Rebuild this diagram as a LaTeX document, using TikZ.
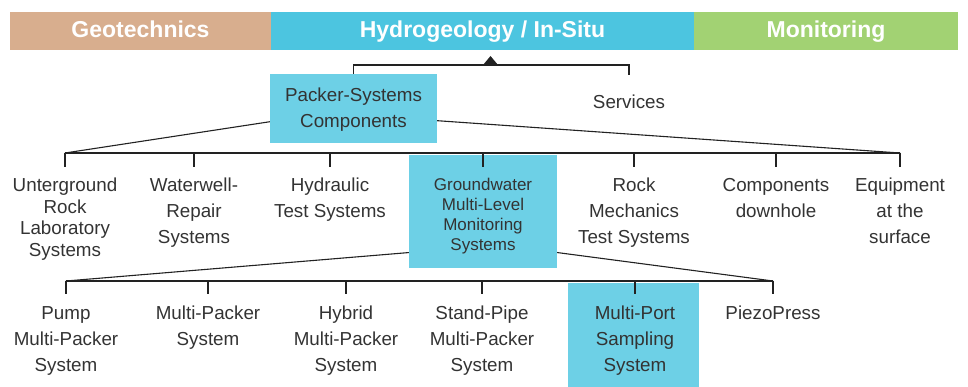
\documentclass[tikz,border=0pt]{standalone}
\usepackage{fontspec}
\setmainfont{Liberation Sans}
\usetikzlibrary{backgrounds}
\definecolor{geoc}{HTML}{D8AE8E}
\definecolor{hydc}{HTML}{4CC5E0}
\definecolor{monc}{HTML}{A2D273}
\definecolor{boxc}{HTML}{6DD0E6}
\definecolor{txtc}{HTML}{333333}
\definecolor{linec}{HTML}{222222}
\begin{document}
\begin{tikzpicture}[x=1pt,y=-1pt,
  hdr/.style={inner sep=0pt, minimum height=38pt, text=white,
    font=\fontsize{23}{26}\selectfont\bfseries, text height=16pt, text depth=2pt},
  lbl/.style={inner sep=0pt, anchor=north, align=center, text=txtc,
    font=\fontsize{18.8}{26}\selectfont},
  lblsm/.style={lbl, font=\fontsize{17}{20}\selectfont},
  lbltight/.style={lbl, font=\fontsize{18.8}{21.5}\selectfont},
  boxonly/.style={inner sep=0pt, fill=boxc, draw=none},
  bus/.style={draw=linec, line width=1.8pt},
  diag/.style={draw=linec, line width=1.1pt}]
\useasboundingbox (0,0) rectangle (968,387);

% header
\node[hdr, fill=geoc, minimum width=261pt] (geo) at (140.5,31) {Geotechnics};
\node[hdr, fill=hydc, minimum width=423pt] (hyd) at (482.5,31) {Hydrogeology / In-Situ};
\node[hdr, fill=monc, minimum width=264pt] (mon) at (826,31) {Monitoring};

% level 1
\node[boxonly, minimum width=167pt, minimum height=69pt] (pk) at (353.5,108.5) {};
\node[lbl] (pkt) at (353.5,88) {Packer-Systems\\Components};
\node[lbl] (sv) at (629,95) {Services};

% level 2
\node[lbltight] (ur) at (65,178) {Unterground\\Rock\\Laboratory\\Systems};
\node[lbl] (ww) at (194,178) {Waterwell-\\Repair\\Systems};
\node[lbl] (hy) at (330,178) {Hydraulic\\Test Systems};
\node[boxonly, minimum width=148pt, minimum height=113pt] (gw) at (483,211.5) {};
\node[lblsm] (gwt) at (483,178) {Groundwater\\Multi-Level\\Monitoring\\Systems};
\node[lbl] (rm) at (634,178) {Rock\\Mechanics\\Test Systems};
\node[lbl] (cd) at (776,178) {Components\\downhole};
\node[lbl] (eq) at (900,178) {Equipment\\at the\\surface};

% level 3
\node[lbl] (pm) at (66,306) {Pump\\Multi-Packer\\System};
\node[lbl] (mp) at (208,306) {Multi-Packer\\System};
\node[lbl] (hb) at (346,306) {Hybrid\\Multi-Packer\\System};
\node[lbl] (sp) at (482,306) {Stand-Pipe\\Multi-Packer\\System};
\node[boxonly, minimum width=131pt, minimum height=104pt] (mps) at (633.5,335) {};
\node[lbl] (mpt) at (635,306) {Multi-Port\\Sampling\\System};
\node[lbl] (pz) at (773,306) {PiezoPress};

% coordinates
\coordinate (pkc) at (327,113);
\coordinate (b2l) at (65,153);
\coordinate (b2r) at (900,153);
\coordinate (gwc) at (500,245);
\coordinate (b3l) at (66,281);
\coordinate (b3r) at (773,281);
\coordinate (bar) at (490.5,65);
\coordinate (srvt) at (629,75);
\coordinate (tri) at (490.5,56);

% diagonals behind boxes
\begin{pgfonlayer}{background}
\draw[diag] (pkc) -- (b2l);
\draw[diag] (pkc) -- (b2r);
\draw[diag] (gwc) -- (b3l);
\draw[diag] (gwc) -- (b3r);
\end{pgfonlayer}

% bracket
\draw[bus] (pk.north) |- (bar) -| (srvt);
\fill[linec] (tri) -- ++(-7.5,9) -- ++(15,0) -- cycle;

% level 2 bus
\draw[bus] (b2l) -- (b2r);
\foreach \n in {ur,ww,hy,rm,cd,eq}
  \draw[bus] (\n.north |- b2l) -- ([yshift=11pt]\n.north);
\draw[bus] (gw.north |- b2l) -- ([yshift=-12pt]gw.north);

% level 3 bus
\draw[bus] (b3l) -- (b3r);
\foreach \n in {pm,mp,hb,sp,mpt,pz}
  \draw[bus] (\n.north |- b3l) -- ([yshift=12pt]\n.north);
\end{tikzpicture}
\end{document}
